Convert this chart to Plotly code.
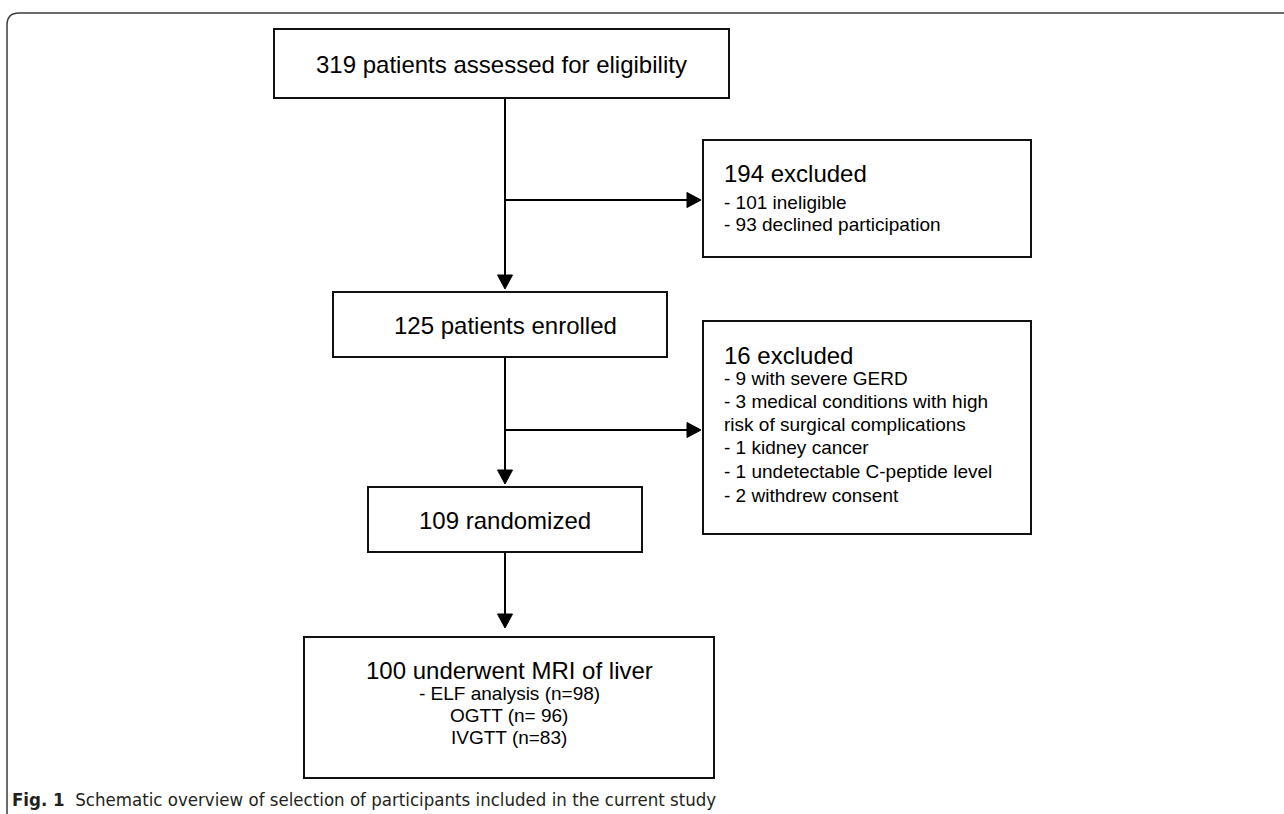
import plotly.graph_objects as go

W, H = 1284, 814

# ---- data (counts from the flow diagram) ----
assessed = 319
excluded_1 = 194
ineligible = 101
declined = 93
enrolled = 125
excluded_2 = 16
excl2_reasons = ["- 9 with severe GERD",
                 "- 3 medical conditions with high",
                 "risk of surgical complications",
                 "- 1 kidney cancer",
                 "- 1 undetectable C-peptide level",
                 "- 2 withdrew consent"]
randomized = 109
mri = 100
elf_n = 98
ogtt_n = 96
ivgtt_n = 83

# ---- layout geometry (pixels, y down) ----
# boxes: x0, x1, y0, y1
box_assessed = (274, 729, 29, 98)
box_excl1 = (703, 1031, 140, 257)
box_enrolled = (333, 667, 292, 357)
box_excl2 = (703, 1031, 321, 534)
box_random = (368, 642, 487, 552)
box_mri = (304, 714, 637, 778)
cx = 505
branch_y = [200, 430]

FONT = "Liberation Sans, Arial, sans-serif"
fig = go.Figure()
shapes = []
annos = []

def rect(b):
    shapes.append(dict(type="rect", xref="x", yref="y", x0=b[0], x1=b[1], y0=b[2], y1=b[3],
                       line=dict(color="#111111", width=2), fillcolor="rgba(0,0,0,0)"))

def line(x0, y0, x1, y1):
    shapes.append(dict(type="line", xref="x", yref="y", x0=x0, y0=y0, x1=x1, y1=y1,
                       line=dict(color="#000000", width=2)))

def down_arrow(x, tip):
    shapes.append(dict(type="path", xref="x", yref="y",
                       path=f"M {x-7.5},{tip-14} L {x+7.5},{tip-14} L {x},{tip} Z",
                       fillcolor="#000000", line=dict(color="#000000", width=1)))

def right_arrow(tip, y):
    shapes.append(dict(type="path", xref="x", yref="y",
                       path=f"M {tip-14},{y-7.5} L {tip-14},{y+7.5} L {tip},{y} Z",
                       fillcolor="#000000", line=dict(color="#000000", width=1)))

def text(x, y, s, size, anchor="center", color="#000000", family=FONT):
    annos.append(dict(x=x, y=y, xref="x", yref="y", text=s,
                      showarrow=False, xanchor=anchor, yanchor="middle",
                      font=dict(family=family, size=size, color=color)))

# outer frame with rounded top-left corner
shapes.append(dict(type="path", xref="x", yref="y",
                   path="M 7,820 L 7,25 Q 7,13 19,13 L 1290,13",
                   line=dict(color="#3c3c3c", width=1.5)))

for b in [box_assessed, box_excl1, box_enrolled, box_excl2, box_random, box_mri]:
    rect(b)

# connectors
line(cx, box_assessed[3], cx, box_enrolled[2] - 12)
down_arrow(cx, box_enrolled[2] - 3)
line(cx, branch_y[0], box_excl1[0] - 14, branch_y[0])
right_arrow(box_excl1[0] - 2, branch_y[0])

line(cx, box_enrolled[3], cx, box_random[2] - 12)
down_arrow(cx, box_random[2] - 3)
line(cx, branch_y[1], box_excl2[0] - 14, branch_y[1])
right_arrow(box_excl2[0] - 2, branch_y[1])

line(cx, box_random[3], cx, box_mri[2] - 20)
down_arrow(cx, box_mri[2] - 9)

# box texts
text((box_assessed[0] + box_assessed[1]) / 2, 64, f"{assessed} patients assessed for eligibility", 24)

tx = 722
text(tx, 173, f"{excluded_1} excluded", 24, anchor="left")
text(tx, 202, f"- {ineligible} ineligible", 19, anchor="left")
text(tx, 224, f"- {declined} declined participation", 19, anchor="left")

text(cx, 325, f"{enrolled} patients enrolled", 24)

text(tx, 355, f"{excluded_2} excluded", 24, anchor="left")
reason_y = [378, 401, 424, 447, 471, 495]
for yy, r in zip(reason_y, excl2_reasons):
    text(tx, yy, r, 19, anchor="left")

text(cx, 520, f"{randomized} randomized", 24)

text(509, 670, f"{mri} underwent MRI of liver", 24)
text(509, 693, f"- ELF analysis (n={elf_n})", 19)
text(509, 715, f"OGTT (n= {ogtt_n})", 19)
text(509, 737, f"IVGTT (n={ivgtt_n})", 19)

# caption
CAP_FONT = "DejaVu Sans Condensed, sans-serif"
annos.append(dict(x=10, y=799, xref="x", yref="y",
                  text="<b>Fig. 1</b>  Schematic overview of selection of participants included in the current study",
                  showarrow=False, xanchor="left", yanchor="middle",
                  font=dict(family=CAP_FONT, size=18.5, color="#231f20")))

fig.update_layout(width=W, height=H, margin=dict(l=0, r=0, t=0, b=0),
                  paper_bgcolor="white", plot_bgcolor="white",
                  shapes=shapes, annotations=annos, showlegend=False)
fig.update_xaxes(range=[0, W], visible=False, fixedrange=True)
fig.update_yaxes(range=[H, 0], visible=False, fixedrange=True)
fig.write_html("out.html", config={"displayModeBar": False},
               post_script="document.body.style.margin='0';document.body.style.overflow='hidden';")
